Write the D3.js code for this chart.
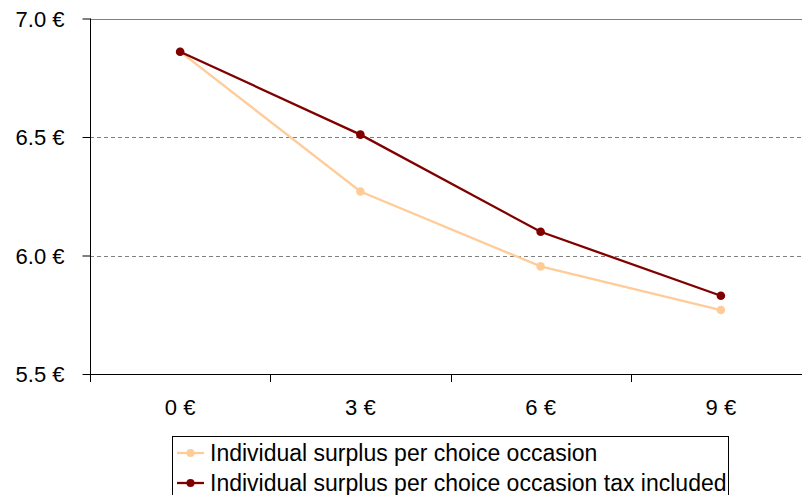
<!DOCTYPE html>
<html>
<head>
<meta charset="utf-8">
<script src="https://cdn.jsdelivr.net/npm/d3@7"></script>
<style>
  html, body { margin: 0; padding: 0; background: #fff; }
  svg { display: block; }
  text { font-family: "Liberation Sans", Arial, sans-serif; fill: #000; }
</style>
</head>
<body>
<svg id="chart" width="802" height="495"></svg>
<script>
// Tax levels on the horizontal axis
const categories = ["0 €", "3 €", "6 €", "9 €"];
// Surplus per choice occasion (€)
const surplus = [6.86, 6.27, 5.954, 5.77];
const surplusTaxIncluded = [6.86, 6.51, 6.10, 5.83];
// Vertical axis ticks
const yTicks = [5.5, 6.0, 6.5, 7.0];
const yTickLabels = ["5.5 €", "6.0 €", "6.5 €", "7.0 €"];
const seriesNames = [
  "Individual surplus per choice occasion",
  "Individual surplus per choice occasion tax included"
];
const seriesColors = ["#FFCC99", "#800000"];

const svg = d3.select("#chart");
const plot = { left: 90, right: 811, top: 18.5, bottom: 374 };

const x = d3.scaleBand().domain(categories).range([plot.left, plot.right]).padding(0);
const y = d3.scaleLinear().domain([5.5, 7.0]).range([plot.bottom, plot.top]);

// Gridlines: solid at the top, dashed in between
svg.append("g").selectAll("line")
  .data(yTicks.filter(t => t > 5.5))
  .join("line")
  .attr("x1", plot.left).attr("x2", 802)
  .attr("y1", d => Math.round(y(d)) + 0.5).attr("y2", d => Math.round(y(d)) + 0.5)
  .attr("stroke", "#808080")
  .attr("stroke-width", 1)
  .attr("stroke-dasharray", d => d === 7.0 ? null : "4,3");

// Y axis
const yAxis = d3.axisLeft(y)
  .tickValues(yTicks)
  .tickFormat((d, i) => yTickLabels[i])
  .tickSize(8)
  .tickPadding(18);
const gy = svg.append("g").attr("transform", `translate(${plot.left + 0.5},0)`).call(yAxis);
gy.select(".domain").remove();
gy.selectAll(".tick line").attr("stroke", "#000");
gy.selectAll(".tick text")
  .style("font-family", '"Liberation Sans", Arial, sans-serif')
  .style("font-size", "22px").attr("fill", "#000")
  .attr("dy", "0.36em");
svg.append("line")
  .attr("x1", plot.left + 0.5).attr("x2", plot.left + 0.5)
  .attr("y1", plot.top).attr("y2", plot.bottom)
  .attr("stroke", "#000");

// X axis: line, boundary ticks between categories, centered labels
svg.append("line")
  .attr("x1", plot.left).attr("x2", 802)
  .attr("y1", Math.round(plot.bottom) + 0.5).attr("y2", Math.round(plot.bottom) + 0.5)
  .attr("stroke", "#000");
const boundaries = categories.map(c => x(c)).concat([x.range()[1]]);
svg.append("g").selectAll("line")
  .data(boundaries)
  .join("line")
  .attr("x1", d => Math.round(d) + 0.5).attr("x2", d => Math.round(d) + 0.5)
  .attr("y1", plot.bottom).attr("y2", plot.bottom + 8)
  .attr("stroke", "#000");
svg.append("g").selectAll("text")
  .data(categories)
  .join("text")
  .attr("x", d => x(d) + x.bandwidth() / 2)
  .attr("y", 415)
  .attr("text-anchor", "middle")
  .style("font-size", "22px")
  .text(d => d);

// Series lines with markers
const series = [surplus, surplusTaxIncluded];
const line = d3.line()
  .x((d, i) => x(categories[i]) + x.bandwidth() / 2)
  .y(d => y(d));

series.forEach((vals, s) => {
  const g = svg.append("g");
  g.append("path")
    .datum(vals)
    .attr("d", line)
    .attr("fill", "none")
    .attr("stroke", seriesColors[s])
    .attr("stroke-width", 2.3);
  g.selectAll("circle")
    .data(vals)
    .join("circle")
    .attr("cx", (d, i) => x(categories[i]) + x.bandwidth() / 2)
    .attr("cy", d => y(d))
    .attr("r", 4.3)
    .attr("fill", seriesColors[s]);
});

// Legend
const legend = svg.append("g");
legend.append("rect")
  .attr("x", 172.5).attr("y", 436.5)
  .attr("width", 556).attr("height", 70)
  .attr("fill", "#fff").attr("stroke", "#000");
seriesNames.forEach((name, i) => {
  const cy = 453 + i * 30;
  legend.append("line")
    .attr("x1", 177).attr("x2", 204)
    .attr("y1", cy).attr("y2", cy)
    .attr("stroke", seriesColors[i]).attr("stroke-width", 2.3);
  legend.append("circle")
    .attr("cx", 190.5).attr("cy", cy).attr("r", 4)
    .attr("fill", seriesColors[i]);
  legend.append("text")
    .attr("x", 210).attr("y", cy + 7.5)
    .style("font-size", "23px")
    .text(name);
});
</script>
</body>
</html>
